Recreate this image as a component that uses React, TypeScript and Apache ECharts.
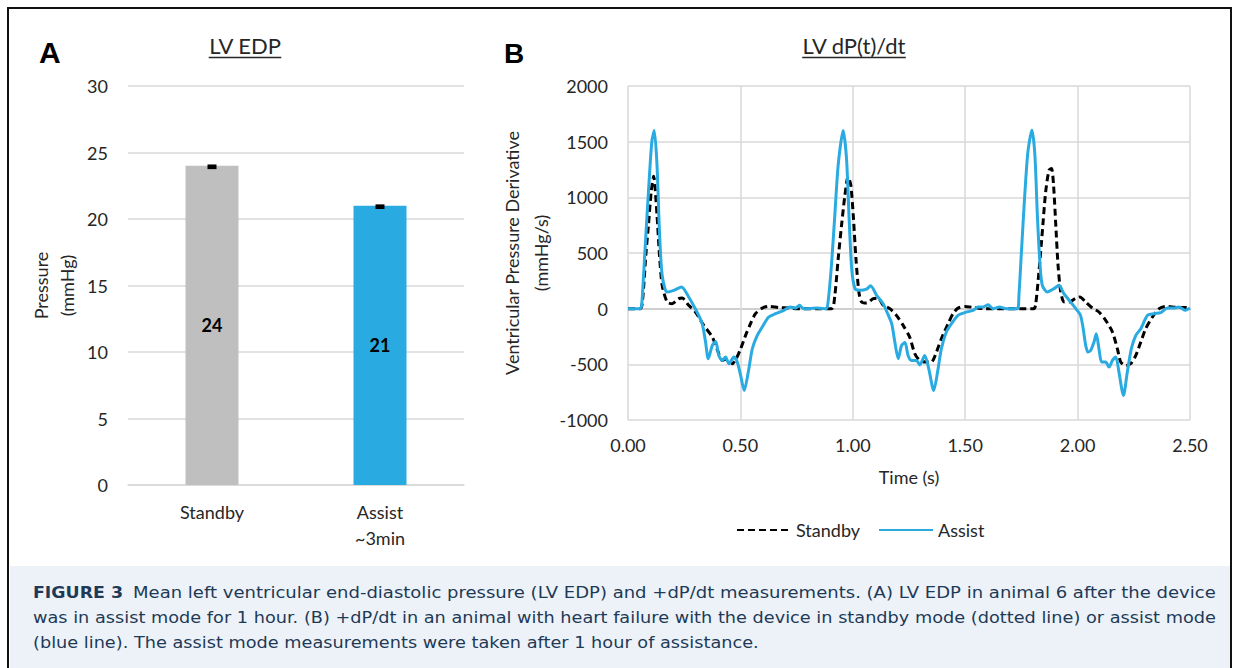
import React, { useEffect, useRef } from "react";
import * as echarts from "echarts";

// ---------- Data ----------
const edpCategories = ["Standby", "Assist\n~3min"];
const edpValues = [24, 21];
const edpErrLow = [23.75, 20.75];
const edpErrHigh = [24.1, 21.1];

const assistT = [
  0, 0.055, 0.062, 0.076, 0.091, 0.106, 0.117, 0.129, 0.14, 0.152, 0.174, 0.204, 0.238, 0.27, 0.307, 0.33, 0.345,
  0.357, 0.375, 0.39, 0.404, 0.419, 0.434, 0.449, 0.471, 0.486, 0.501, 0.517, 0.535, 0.553, 0.575, 0.597, 0.626,
  0.656, 0.693, 0.722, 0.745, 0.763, 0.782, 0.841, 0.882, 0.89, 0.905, 0.92, 0.935, 0.957, 0.972, 0.983, 0.995,
  1.01, 1.032, 1.061, 1.079, 1.106, 1.135, 1.155, 1.173, 1.187, 1.202, 1.217, 1.232, 1.246, 1.261, 1.283, 1.298,
  1.32, 1.338, 1.36, 1.377, 1.394, 1.416, 1.439, 1.468, 1.498, 1.535, 1.557, 1.58, 1.602, 1.624, 1.653, 1.683,
  1.732, 1.739, 1.751, 1.764, 1.779, 1.797, 1.81, 1.821, 1.833, 1.843, 1.865, 1.895, 1.917, 1.939, 1.969, 1.998,
  2.013, 2.025, 2.036, 2.046, 2.058, 2.073, 2.083, 2.095, 2.107, 2.125, 2.14, 2.155, 2.17, 2.184, 2.204, 2.221,
  2.239, 2.259, 2.281, 2.311, 2.34, 2.37, 2.399, 2.429, 2.451, 2.48, 2.5,
];
const assistV = [
  0, 0, 60, 540, 1050, 1500, 1600, 1290, 690, 300, 150, 165, 195, 105, -30, -135, -300,
  -450, -330, -295, -420, -465, -435, -495, -435, -480, -600, -736, -570, -360, -240, -165, -75,
  -45, -15, 15, 5, 30, 0, 5, 0, 60, 390, 840, 1290, 1600, 1350, 840, 360,
  180, 165, 175, 205, 120, 45, -45, -135, -300, -450, -330, -305, -420, -465, -465, -505,
  -420, -540, -736, -570, -360, -210, -135, -60, -35, -15, 15, 15, 35, 0, 15, 0,
  0, 120, 540, 990, 1410, 1605, 1380, 840, 390, 210, 150, 180, 210, 135, 60, -15,
  -60, -180, -330, -390, -375, -300, -225, -360, -480, -480, -525, -465, -435, -570, -780, -570,
  -360, -240, -180, -60, -45, -35, 5, 5, 15, -15, 5,
];

const standbyT = [
  0, 0.055, 0.065, 0.08, 0.091, 0.103, 0.114, 0.129, 0.14, 0.152, 0.174, 0.196, 0.226, 0.241, 0.27, 0.3, 0.337,
  0.375, 0.404, 0.419, 0.441, 0.463, 0.481, 0.501, 0.523, 0.545, 0.567, 0.597, 0.626, 0.67, 0.715, 0.76, 0.905,
  0.92, 0.935, 0.95, 0.965, 0.979, 0.991, 1.002, 1.014, 1.027, 1.039, 1.061, 1.091, 1.113, 1.135, 1.165, 1.194,
  1.224, 1.253, 1.276, 1.298, 1.327, 1.349, 1.372, 1.394, 1.424, 1.446, 1.468, 1.498, 1.542, 1.587, 1.805, 1.813,
  1.828, 1.843, 1.858, 1.873, 1.884, 1.893, 1.903, 1.913, 1.925, 1.94, 1.962, 1.992, 2.01, 2.036, 2.066, 2.095,
  2.125, 2.155, 2.177, 2.192, 2.214, 2.236, 2.259, 2.281, 2.303, 2.333, 2.363, 2.392, 2.451, 2.5,
];
const standbyV = [
  0, 0, 80, 500, 750, 1050, 1190, 840, 480, 210, 60, 45, 90, 95, 30, -30, -150,
  -255, -405, -465, -450, -495, -450, -360, -240, -135, -45, 5, 20, 10, 5, 0, 0,
  120, 450, 750, 1020, 1185, 1110, 840, 450, 150, 60, 50, 90, 95, 30, 0, -60,
  -150, -255, -405, -465, -480, -480, -390, -270, -135, -45, 5, 20, 10, 0, 0, 30,
  330, 690, 1050, 1245, 1260, 1110, 750, 390, 150, 60, 60, 95, 105, 60, 5, -30,
  -105, -210, -360, -480, -510, -495, -420, -300, -180, -75, 0, 20, 10, 10,
];

const captionBold = "FIGURE 3";
const captionLine1 =
  "Mean left ventricular end-diastolic pressure (LV EDP) and +dP/dt measurements. (A) LV EDP in animal 6 after the device";
const captionLine2 =
  "was in assist mode for 1 hour. (B) +dP/dt in an animal with heart failure with the device in standby mode (dotted line) or assist mode";
const captionLine3 = "(blue line). The assist mode measurements were taken after 1 hour of assistance.";

// ---------- Styles ----------
const FONT = "Lato";
const TEXT = "#262626";
const GRID = "#d9d9d9";
const BLUE = "#29abe2";
const GRAY = "#bfbfbf";
const CAP_COLOR = "#1e3a56";
const CAP_FONT = "DejaVu Sans";

function measure(text: string, font: string): number {
  const ctx = document.createElement("canvas").getContext("2d");
  if (!ctx) return text.length * 8;
  ctx.font = font;
  return ctx.measureText(text).width;
}

export default function App() {
  const ref = useRef<HTMLDivElement>(null);

  useEffect(() => {
    if (!ref.current) return;
    const chart = echarts.init(ref.current, undefined, { renderer: "svg" });

    const capSize = 15;
    const boldW = measure(captionBold, `bold ${capSize}px "${CAP_FONT}"`);
    const l1W = measure(captionLine1, `${capSize}px "${CAP_FONT}"`);
    const l2W = measure(captionLine2, `${capSize}px "${CAP_FONT}"`);
    const sBold = 90 / boldW;
    const s1 = (1216 - 133) / l1W;
    const s2 = (1216 - 33) / l2W;

    const titleSize = 22;
    const tA = measure("LV EDP", `${titleSize}px ${FONT}`);
    const tB = measure("LV dP(t)/dt", `${titleSize}px ${FONT}`);
    const titleA_cx = 245;
    const titleB_cx = 854;

    const capText = (text: string, x: number, y: number, sx: number, bold = false) => ({
      type: "text",
      x,
      y,
      scaleX: sx,
      style: {
        text,
        fontFamily: CAP_FONT,
        fontSize: capSize,
        fontWeight: bold ? "bold" : "normal",
        fill: CAP_COLOR,
        textAlign: "left",
        textVerticalAlign: "middle",
      },
    });

    const plain = (v: number) => String(v);

    const option: any = {
      animation: false,
      backgroundColor: "#ffffff",
      textStyle: { fontFamily: FONT },
      grid: [
        { left: 128, right: 1239 - 464, top: 86, bottom: 668 - 485 },
        { left: 628, right: 1239 - 1190, top: 86, bottom: 668 - 420 },
      ],
      legend: {
        data: ["Standby", "Assist"],
        left: 731,
        top: 516,
        itemWidth: 54,
        itemHeight: 18,
        itemGap: 18,
        itemStyle: { opacity: 0 },
        textStyle: { fontFamily: FONT, fontSize: 18, color: TEXT },
      },
      xAxis: [
        {
          type: "category",
          gridIndex: 0,
          data: edpCategories,
          axisTick: { show: false },
          axisLine: { lineStyle: { color: GRID, width: 1.5 } },
          axisLabel: { fontFamily: FONT, fontSize: 18, color: TEXT, margin: 14, lineHeight: 26 },
        },
        {
          type: "value",
          gridIndex: 1,
          min: 0,
          max: 2.5,
          interval: 0.5,
          axisLine: { show: false },
          axisTick: { show: false },
          splitLine: { show: true, lineStyle: { color: GRID, width: 1.5 } },
          axisLabel: {
            fontFamily: FONT,
            fontSize: 18,
            color: TEXT,
            margin: 16,
            formatter: (v: number) => v.toFixed(2),
          },
          name: "Time (s)",
          nameLocation: "middle",
          nameGap: 48,
          nameTextStyle: { fontFamily: FONT, fontSize: 18, color: TEXT },
        },
      ],
      yAxis: [
        {
          type: "value",
          gridIndex: 0,
          min: 0,
          max: 30,
          interval: 5,
          axisLine: { show: false },
          axisTick: { show: false },
          splitLine: { lineStyle: { color: GRID, width: 1.5 } },
          axisLabel: { fontFamily: FONT, fontSize: 18, color: TEXT, margin: 20, formatter: plain },
          name: "Pressure\n(mmHg)",
          nameLocation: "middle",
          nameRotate: 90,
          nameGap: 48,
          nameTextStyle: { fontFamily: FONT, fontSize: 18, color: TEXT, lineHeight: 26, align: "center" },
        },
        {
          type: "value",
          gridIndex: 1,
          min: -1000,
          max: 2000,
          interval: 500,
          axisLine: { show: false },
          axisTick: { show: false },
          splitLine: {
            lineStyle: { color: [GRID, GRID, "#bfbfbf", GRID, GRID, GRID, GRID], width: 1.5 },
          },
          axisLabel: { fontFamily: FONT, fontSize: 18, color: TEXT, margin: 20, formatter: plain },
          name: "Ventricular Pressure Derivative\n(mmHg/s)",
          nameLocation: "middle",
          nameRotate: 90,
          nameGap: 64,
          nameTextStyle: { fontFamily: FONT, fontSize: 18, color: TEXT, lineHeight: 29, align: "center" },
        },
      ],
      series: [
        {
          name: "EDP",
          type: "bar",
          xAxisIndex: 0,
          yAxisIndex: 0,
          barWidth: 53,
          data: edpValues.map((v, i) => ({ value: v, itemStyle: { color: i === 0 ? GRAY : BLUE } })),
          label: {
            show: true,
            position: "inside",
            fontFamily: FONT,
            fontSize: 18,
            fontWeight: "bold",
            color: "#000",
          },
        },
        {
          name: "EDP error",
          type: "custom",
          xAxisIndex: 0,
          yAxisIndex: 0,
          z: 5,
          encode: { x: 0, y: [1, 2] },
          data: edpCategories.map((_, i) => [i, edpErrLow[i], edpErrHigh[i]]),
          renderItem: (params: any, api: any) => {
            const lo = api.coord([api.value(0), api.value(1)]);
            const hi = api.coord([api.value(0), api.value(2)]);
            return {
              type: "rect",
              shape: { x: lo[0] - 4.5, y: hi[1], width: 9, height: lo[1] - hi[1] },
              style: { fill: "#000" },
            };
          },
        },
        {
          name: "Standby",
          type: "line",
          xAxisIndex: 1,
          yAxisIndex: 1,
          showSymbol: false,
          symbol: "none",
          smooth: 0.25,
          z: 3,
          lineStyle: { color: "#000", width: 3, type: [7, 4] },
          itemStyle: { color: "#000" },
          data: standbyT.map((t, i) => [t, standbyV[i]]),
        },
        {
          name: "Assist",
          type: "line",
          xAxisIndex: 1,
          yAxisIndex: 1,
          showSymbol: false,
          symbol: "none",
          smooth: 0.25,
          z: 4,
          lineStyle: { color: BLUE, width: 3 },
          itemStyle: { color: BLUE },
          data: assistT.map((t, i) => [t, assistV[i]]),
        },
      ],
      graphic: [
        // caption background
        { type: "rect", z: -10, shape: { x: 10, y: 566, width: 1220, height: 102 }, style: { fill: "#edf2f9" } },
        // frame
        { type: "line", shape: { x1: 8, y1: 8, x2: 1231, y2: 8 }, style: { stroke: "#111", lineWidth: 2 } },
        { type: "line", shape: { x1: 8, y1: 7, x2: 8, y2: 668 }, style: { stroke: "#111", lineWidth: 2 } },
        { type: "line", shape: { x1: 1231, y1: 7, x2: 1231, y2: 668 }, style: { stroke: "#111", lineWidth: 2 } },
        // panel letters
        {
          type: "text",
          x: 39,
          y: 52,
          style: { text: "A", fontFamily: "Liberation Sans", fontWeight: "bold", fontSize: 30, fill: "#000", textVerticalAlign: "middle" },
        },
        {
          type: "text",
          x: 504,
          y: 53,
          style: { text: "B", fontFamily: "Liberation Sans", fontWeight: "bold", fontSize: 28, fill: "#000", textVerticalAlign: "middle" },
        },
        // titles
        {
          type: "text",
          x: titleA_cx,
          y: 45,
          style: { text: "LV EDP", fontFamily: FONT, fontSize: titleSize, fill: TEXT, textAlign: "center", textVerticalAlign: "middle" },
        },
        {
          type: "line",
          shape: { x1: titleA_cx - tA / 2, y1: 57.5, x2: titleA_cx + tA / 2, y2: 57.5 },
          style: { stroke: TEXT, lineWidth: 1.5 },
        },
        {
          type: "text",
          x: titleB_cx,
          y: 45,
          style: { text: "LV dP(t)/dt", fontFamily: FONT, fontSize: titleSize, fill: TEXT, textAlign: "center", textVerticalAlign: "middle" },
        },
        {
          type: "line",
          shape: { x1: titleB_cx - tB / 2, y1: 57.5, x2: titleB_cx + tB / 2, y2: 57.5 },
          style: { stroke: TEXT, lineWidth: 1.5 },
        },
        // caption
        capText(captionBold, 33, 593, sBold, true),
        capText(captionLine1, 133, 593, s1),
        capText(captionLine2, 33, 618, s2),
        capText(captionLine3, 33, 643, s2),
      ],
    };

    chart.setOption(option);
    return () => chart.dispose();
  }, []);

  return (
    <div
      ref={ref}
      style={{ position: "fixed", left: 0, top: 0, width: 1239, height: 668, background: "#fff" }}
    />
  );
}
